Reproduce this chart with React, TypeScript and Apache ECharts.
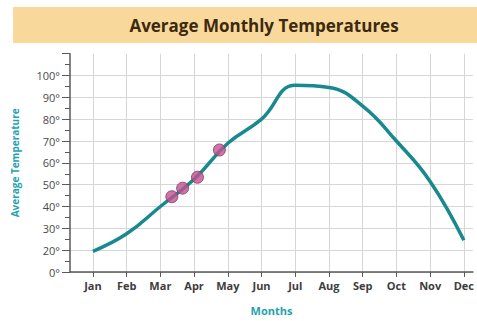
import React, { useEffect, useRef } from "react";
import * as echarts from "echarts";

// Month positions along the x axis (1 = Jan ... 12 = Dec)
const monthNumbers = [1, 2, 3, 4, 5, 6, 7, 8, 9, 10, 11, 12];
const monthNames = ["Jan", "Feb", "Mar", "Apr", "May", "Jun", "Jul", "Aug", "Sep", "Oct", "Nov", "Dec"];

// Average temperature for each month (°F)
const monthlyTemps = [19.5, 27.5, 40, 52.5, 69, 80, 95.5, 94.5, 86, 70, 51.5, 24.5];

// Highlighted readings (fractional month, temperature)
const highlightMonths = [3.34, 3.66, 4.1, 4.75];
const highlightTemps = [44.5, 48.4, 53.4, 65.9];

// Y axis: the axis is broken below 20°, so the baseline tick reads 0°
const yTickValues = [10, 20, 30, 40, 50, 60, 70, 80, 90, 100];
const yTickLabels = ["0°", "20°", "30°", "40°", "50°", "60°", "70°", "80°", "90°", "100°"];

const TEAL = "#17898f";
const TEAL_TEXT = "#1fa3b1";

export default function App() {
  const ref = useRef<HTMLDivElement>(null);

  useEffect(() => {
    if (!ref.current) return;
    const chart = echarts.init(ref.current, null, { renderer: "svg" });

    const lineData = monthNumbers.map((m, i) => [m, monthlyTemps[i]]);
    const pointData = highlightMonths.map((m, i) => [m, highlightTemps[i]]);

    chart.setOption({
      animation: false,
      backgroundColor: "#ffffff",
      graphic: [
        {
          type: "rect",
          shape: { x: 13, y: 7, width: 464, height: 36 },
          style: { fill: "#f9d89b" },
          silent: true,
          z: 0,
        },
        {
          type: "text",
          x: 264,
          y: 25,
          style: {
            text: "Average Monthly Temperatures",
            textAlign: "center",
            textVerticalAlign: "middle",
            fontFamily: "Open Sans",
            fontWeight: 700,
            fontSize: 17,
            fill: "#3b2a10",
          },
          z: 1,
        },
      ],
      grid: { left: 70, right: 4, top: 53.7, bottom: 41.7, containLabel: false },
      xAxis: {
        type: "value",
        min: 0.32,
        max: 12.27,
        name: "Months",
        nameLocation: "middle",
        nameGap: 33,
        nameTextStyle: { color: TEAL_TEXT, fontFamily: "Open Sans", fontWeight: 700, fontSize: 11 },
        axisLine: { show: true, lineStyle: { color: "#5a5a5a", width: 1.5 } },
        axisTick: { show: true, customValues: monthNumbers, length: 5, lineStyle: { color: "#5a5a5a" } },
        axisLabel: {
          customValues: monthNumbers,
          formatter: (v: number) => monthNames[Math.round(v) - 1] ?? "",
          color: "#3d3d3d",
          fontFamily: "Open Sans",
          fontWeight: 700,
          fontSize: 11,
          margin: 8,
        },
        splitLine: { show: true, lineStyle: { color: "#d6d6d6", width: 1 } },
      },
      yAxis: {
        type: "value",
        min: 10,
        max: 110,
        interval: 10,
        name: "Average Temperature",
        nameLocation: "middle",
        nameGap: 50,
        nameRotate: 90,
        nameTextStyle: { color: TEAL_TEXT, fontFamily: "Open Sans", fontWeight: 700, fontSize: 10 },
        axisLine: { show: true, lineStyle: { color: "#5a5a5a", width: 1.5 } },
        axisTick: { show: true, length: 8, lineStyle: { color: "#5a5a5a" } },
        minorTick: { show: true, splitNumber: 2, length: 5, lineStyle: { color: "#5a5a5a" } },
        axisLabel: {
          formatter: (v: number) => {
            const i = yTickValues.indexOf(v);
            return i >= 0 ? yTickLabels[i] : "";
          },
          color: "#4a4a4a",
          fontFamily: "Open Sans",
          fontSize: 11,
          margin: 10,
        },
        splitLine: { show: true, showMaxLine: false, lineStyle: { color: "#d6d6d6", width: 1 } },
      },
      series: [
        {
          type: "line",
          data: lineData,
          smooth: 0.45,
          showSymbol: false,
          lineStyle: { color: TEAL, width: 3.5 },
          z: 3,
        },
        {
          type: "scatter",
          data: pointData,
          symbolSize: 12,
          itemStyle: { color: "#c4508f", borderColor: "#7a3862", borderWidth: 1 },
          z: 4,
        },
      ],
    });

    return () => chart.dispose();
  }, []);

  return (
    <div
      ref={ref}
      style={{ position: "absolute", left: 0, top: 0, width: 477, height: 321 }}
    />
  );
}
